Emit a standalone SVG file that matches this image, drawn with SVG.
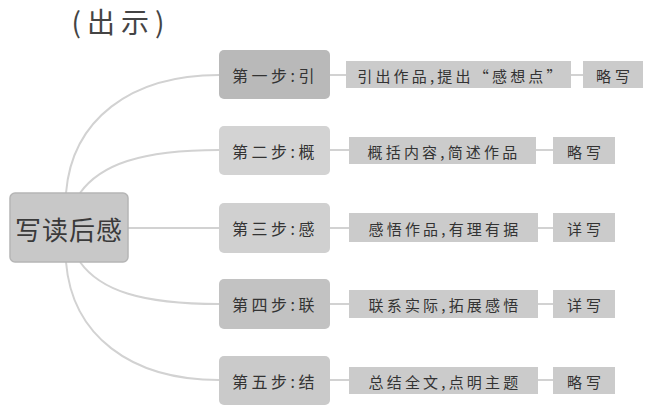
<svg xmlns="http://www.w3.org/2000/svg" width="645" height="408" viewBox="0 0 645 408">
<style>
text{font-family:"Noto Sans CJK SC","Noto Sans",sans-serif;fill:#333;dominant-baseline:central;text-anchor:middle}
.step text{font-size:16px;letter-spacing:3.5px}
.desc text{font-size:15px;letter-spacing:3.2px}
.res text{font-size:15px;letter-spacing:4px}
.desc rect,.res rect{fill:#cbcbcb}
.link path{fill:none;stroke:#d2d2d2;stroke-width:2}
</style>
<rect width="645" height="408" fill="#ffffff"/>
<text x="121" y="21" style="font-size:28px;letter-spacing:6px;fill:#444">(出示)</text>
<g class="link">
<path d="M66,193 C72,120 130,75 219,75"/>
<path d="M80,193 C100,165 140,150 219,150"/>
<path d="M128,228 L219,228"/>
<path d="M80,262 C100,290 140,304 219,304"/>
<path d="M66,262 C72,335 130,380 219,380"/>
<path d="M330,75 H346 M571,75 H583"/>
<path d="M330,150 H349 M536,150 H553"/>
<path d="M330,228 H349 M538,228 H553"/>
<path d="M330,304 H349 M538,304 H553"/>
<path d="M330,380 H349 M538,380 H553"/>
</g>
<g id="root"><rect x="10" y="193" width="118" height="69" rx="5" fill="#c8c8c8" stroke="#b5b5b5" stroke-width="1.5"/><text x="69" y="228" style="font-size:26px;letter-spacing:1px;fill:#3a3a3a">写读后感</text></g>
<g id="s1" class="step"><rect x="219" y="50" width="111" height="49" rx="5" fill="#b9b9b9"/><text x="275" y="75">第一步:引</text></g>
<g id="s2" class="step"><rect x="219" y="126" width="111" height="49" rx="5" fill="#d3d3d3"/><text x="275" y="151">第二步:概</text></g>
<g id="s3" class="step"><rect x="219" y="203" width="111" height="50" rx="5" fill="#d0d0d0"/><text x="275" y="228">第三步:感</text></g>
<g id="s4" class="step"><rect x="219" y="279" width="111" height="50" rx="5" fill="#c2c2c2"/><text x="275" y="304">第四步:联</text></g>
<g id="s5" class="step"><rect x="219" y="356" width="111" height="49" rx="5" fill="#cacaca"/><text x="275" y="381">第五步:结</text></g>
<g id="d1" class="desc"><rect x="346" y="61" width="225" height="27"/><text x="461" y="75">引出作品,提出“感想点”</text></g>
<g id="d2" class="desc"><rect x="349" y="137" width="187" height="27"/><text x="444" y="151">概括内容,简述作品</text></g>
<g id="d3" class="desc"><rect x="349" y="213" width="189" height="29"/><text x="445" y="228">感悟作品,有理有据</text></g>
<g id="d4" class="desc"><rect x="349" y="290" width="189" height="28"/><text x="445" y="304">联系实际,拓展感悟</text></g>
<g id="d5" class="desc"><rect x="349" y="367" width="189" height="27"/><text x="445" y="381">总结全文,点明主题</text></g>
<g id="r1" class="res"><rect x="583" y="61" width="60" height="27"/><text x="615" y="75">略写</text></g>
<g id="r2" class="res"><rect x="553" y="137" width="62" height="27"/><text x="586" y="151">略写</text></g>
<g id="r3" class="res"><rect x="553" y="213" width="62" height="29"/><text x="586" y="228">详写</text></g>
<g id="r4" class="res"><rect x="553" y="290" width="62" height="28"/><text x="586" y="304">详写</text></g>
<g id="r5" class="res"><rect x="553" y="367" width="62" height="27"/><text x="586" y="381">略写</text></g>
</svg>
